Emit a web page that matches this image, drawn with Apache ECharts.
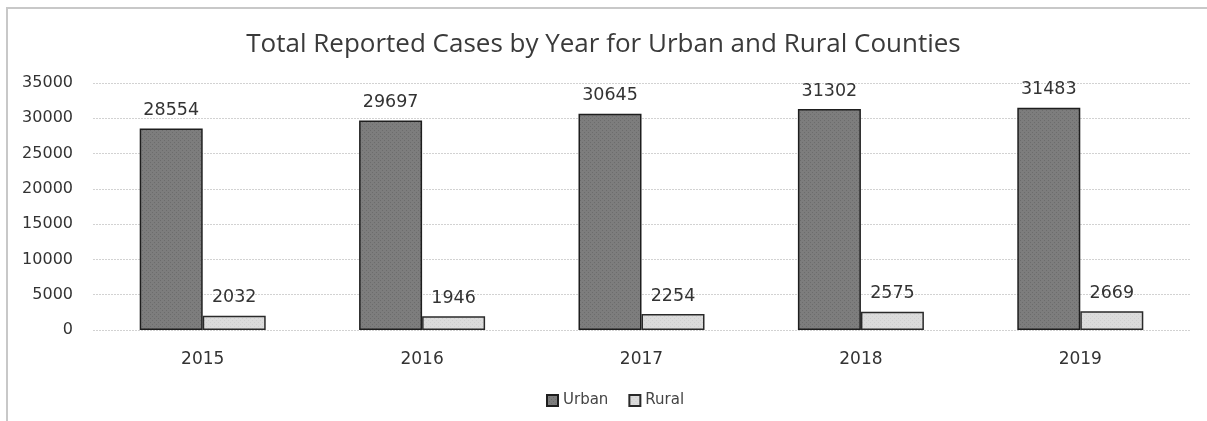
<!DOCTYPE html>
<html>
<head>
<meta charset="utf-8">
<script src="https://cdn.jsdelivr.net/npm/echarts@6/dist/echarts.min.js"></script>
<style>
html,body{margin:0;padding:0;background:#fff;}
#chart{width:1207px;height:421px;}
</style>
</head>
<body>
<div id="chart"></div>
<script>
const categories = ['2015', '2016', '2017', '2018', '2019'];
const urbanValues = [28554, 29697, 30645, 31302, 31483];
const ruralValues = [2032, 1946, 2254, 2575, 2669];
const yTicks = { min: 0, max: 35000, interval: 5000 };
const titleText = 'Total Reported Cases by Year for Urban and Rural Counties';

function makePattern(c1, c2) {
  const cv = document.createElement('canvas');
  cv.width = 4; cv.height = 4;
  const ctx = cv.getContext('2d');
  ctx.fillStyle = c1; ctx.fillRect(0, 0, 4, 4);
  ctx.fillStyle = c2;
  ctx.fillRect(0, 0, 1, 1); ctx.fillRect(2, 2, 1, 1);
  return { image: cv, repeat: 'repeat' };
}

const chart = echarts.init(document.getElementById('chart'), null, { renderer: 'canvas' });
const labelStyle = {
  show: true, position: 'top', distance: 9,
  fontFamily: 'DejaVu Sans', fontSize: 17.5, color: '#333'
};
chart.setOption({
  backgroundColor: '#fff',
  animation: false,
  title: {
    text: titleText, left: 'center', top: 27,
    textStyle: { fontFamily: 'Open Sans', fontSize: 26, fontWeight: 'normal', color: '#3a3a3a' }
  },
  legend: {
    left: 541, top: 388, itemWidth: 11, itemHeight: 11, itemGap: 20,
    icon: 'rect',
    textStyle: { fontFamily: 'DejaVu Sans', fontSize: 15, color: '#444' },
    data: ['Urban', 'Rural']
  },
  grid: { left: 93, right: 17, top: 83, bottom: 91 },
  xAxis: {
    type: 'category', data: categories,
    axisLine: { show: false }, axisTick: { show: false },
    axisLabel: { margin: 21, fontFamily: 'DejaVu Sans', fontSize: 17, color: '#333' }
  },
  yAxis: {
    type: 'value', min: yTicks.min, max: yTicks.max, interval: yTicks.interval,
    axisLine: { show: false }, axisTick: { show: false },
    axisLabel: { margin: 20, fontFamily: 'DejaVu Sans', fontSize: 16, color: '#333',
      formatter: function (v) { return String(v); } },
    splitLine: { lineStyle: { color: '#d2d2d2', type: [2, 1], width: 1 } }
  },
  series: [
    {
      name: 'Urban', type: 'bar', data: urbanValues, barWidth: 63, barGap: '0%',
      itemStyle: { color: makePattern('#7d7d7d', '#6c6c6c'), borderColor: '#1e1e1e', borderWidth: 1.5 },
      label: labelStyle
    },
    {
      name: 'Rural', type: 'bar', data: ruralValues, barWidth: 63,
      itemStyle: { color: makePattern('#dcdcdc', '#cfcfcf'), borderColor: '#2a2a2a', borderWidth: 1.5 },
      label: labelStyle
    }
  ],
  graphic: [
    { type: 'line', shape: { x1: 7, y1: 8, x2: 7, y2: 421 }, style: { stroke: '#c8c8c8', lineWidth: 2 } },
    { type: 'line', shape: { x1: 6, y1: 8, x2: 1207, y2: 8 }, style: { stroke: '#c8c8c8', lineWidth: 2 } }
  ]
});
</script>
</body>
</html>
